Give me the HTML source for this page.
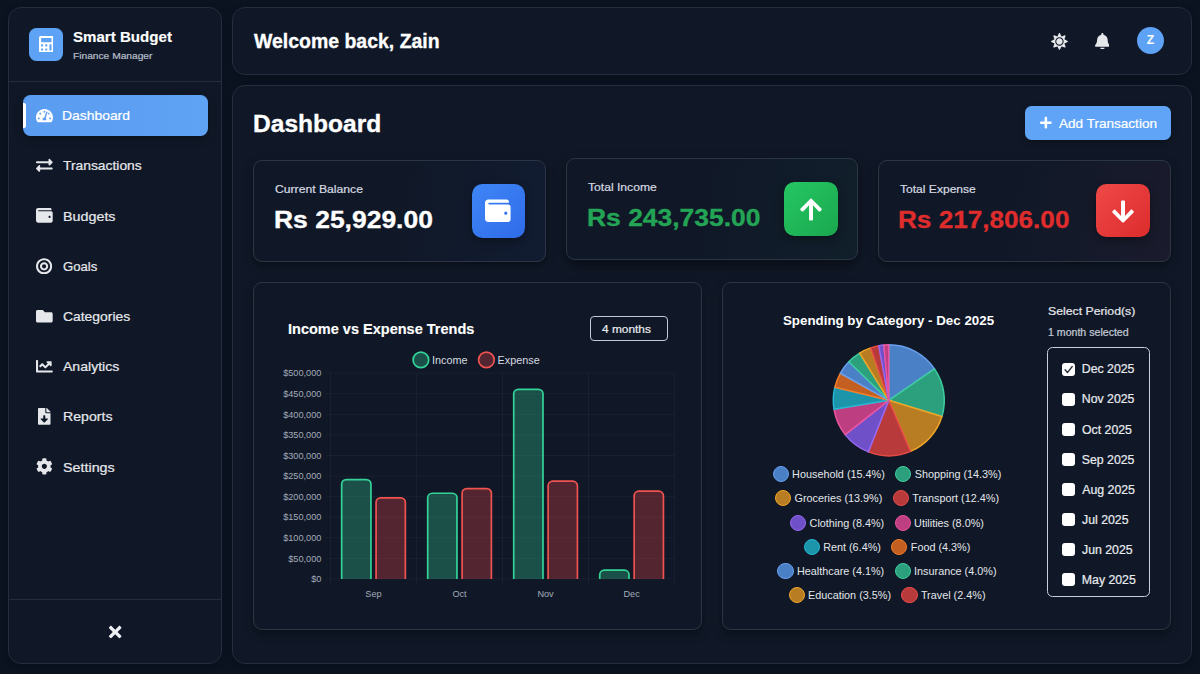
<!DOCTYPE html>
<html lang="en">
<head>
<meta charset="utf-8">
<title>Smart Budget - Dashboard</title>
<style>
*{box-sizing:border-box;margin:0;padding:0}
html,body{width:1200px;height:674px;overflow:hidden}
body{background:#0b1321;font-family:"Liberation Sans",Arial,sans-serif;color:#f3f4f6;position:relative}
.abs{position:absolute}
.panel{position:absolute;background:#101827;border:1px solid #232e3e;border-radius:13px;box-shadow:0 2px 6px rgba(0,0,0,.22)}
.card{position:absolute;background:#101827;border:1px solid #2a3545;border-radius:9px;box-shadow:0 4px 10px rgba(0,0,0,.38)}
.t{position:absolute;white-space:nowrap;line-height:1}
.brand{font-weight:700;font-size:15.2px;color:#fff;left:73px;top:29.500px}
.sub{font-size:10.2px;color:#c3cad5;left:73px;top:51.500px}
.hr{position:absolute;left:9px;width:212px;height:1px;background:#232d3d}
.nav{position:absolute;left:63px;font-size:13.7px;color:#e5e7eb;line-height:14px;white-space:nowrap}
.lab{font-size:11.9px;color:#d1d5db}
.val{font-size:24.5px;font-weight:700;letter-spacing:.2px}
svg text{font-family:"Liberation Sans",Arial,sans-serif}
.tick{font-size:9.17px;fill:#a3abb8}
.leg{font-size:10.83px;fill:#d6dae0}
.lrow{position:absolute;left:737px;width:300px;height:16px;display:flex;justify-content:center;white-space:nowrap}
.li{display:inline-flex;align-items:center;font-size:10.83px;color:#e3e6ea;line-height:16px;margin:0 5.200px}
.li i{display:inline-block;width:16.200px;height:16.200px;border-radius:50%;border:1.500px solid;margin-right:3.300px}
.cb{position:absolute;left:1062.100px;width:13.2px;height:13.2px;border-radius:3px;background:#fff}
.cbl{left:1082px;font-size:12.6px;color:#e7eaee}
</style>
</head>
<body>
<!-- SIDE<g stroke="rgba(255,255,255,0.047)" stroke-width="0.85" fill="none"><line x1="326" x2="674.6" y1="373.2" y2="373.2"/><line x1="326" x2="674.6" y1="393.77" y2="393.77"/><line x1="326" x2="674.6" y1="414.34" y2="414.34"/><line x1="326" x2="674.6" y1="434.91" y2="434.91"/><line x1="326" x2="674.6" y1="455.48" y2="455.48"/><line x1="326" x2="674.6" y1="476.05" y2="476.05"/><line x1="326" x2="674.6" y1="496.62" y2="496.62"/><line x1="326" x2="674.6" y1="517.19" y2="517.19"/><line x1="326" x2="674.6" y1="537.76" y2="537.76"/><line x1="326" x2="674.6" y1="558.33" y2="558.33"/><line x1="326" x2="674.6" y1="578.9" y2="578.9"/><line x1="330.5" x2="330.5" y1="373.2" y2="585.6"/><line x1="416.52" x2="416.52" y1="373.2" y2="585.6"/><line x1="502.55" x2="502.55" y1="373.2" y2="585.6"/><line x1="588.58" x2="588.58" y1="373.2" y2="585.6"/><line x1="674.6" x2="674.6" y1="373.2" y2="585.6"/></g>
<text x="321.400" y="375.7" text-anchor="end" class="tick">$500,000</text>
<text x="321.400" y="397.07" text-anchor="end" class="tick">$450,000</text>
<text x="321.400" y="417.64" text-anchor="end" class="tick">$400,000</text>
<text x="321.400" y="438.21" text-anchor="end" class="tick">$350,000</text>
<text x="321.400" y="458.78" text-anchor="end" class="tick">$300,000</text>
<text x="321.400" y="479.35" text-anchor="end" class="tick">$250,000</text>
<text x="321.400" y="499.92" text-anchor="end" class="tick">$200,000</text>
<text x="321.400" y="520.49" text-anchor="end" class="tick">$150,000</text>
<text x="321.400" y="541.06" text-anchor="end" class="tick">$100,000</text>
<text x="321.400" y="561.63" text-anchor="end" class="tick">$50,000</text>
<text x="321.400" y="582.2" text-anchor="end" class="tick">$0</text>
<path d="M341.67 578.9V484.15a4.6 4.6 0 0 1 4.6 -4.6H366.34a4.6 4.6 0 0 1 4.6 4.6V578.9" fill="rgba(52,211,153,0.30)" stroke="#34d399" stroke-width="1.700"/>
<path d="M376.08 578.9V502.45a4.6 4.6 0 0 1 4.6 -4.6H400.75a4.6 4.6 0 0 1 4.6 4.6V578.9" fill="rgba(239,68,68,0.30)" stroke="#ef5350" stroke-width="1.700"/>
<path d="M427.7 578.9V497.85a4.6 4.6 0 0 1 4.6 -4.6H452.37a4.6 4.6 0 0 1 4.6 4.6V578.9" fill="rgba(52,211,153,0.30)" stroke="#34d399" stroke-width="1.700"/>
<path d="M462.11 578.9V493.15a4.6 4.6 0 0 1 4.6 -4.6H486.78a4.6 4.6 0 0 1 4.6 4.6V578.9" fill="rgba(239,68,68,0.30)" stroke="#ef5350" stroke-width="1.700"/>
<path d="M513.72 578.9V393.95a4.6 4.6 0 0 1 4.6 -4.6H538.39a4.6 4.6 0 0 1 4.6 4.6V578.9" fill="rgba(52,211,153,0.30)" stroke="#34d399" stroke-width="1.700"/>
<path d="M548.13 578.9V485.75a4.6 4.6 0 0 1 4.6 -4.6H572.8a4.6 4.6 0 0 1 4.6 4.6V578.9" fill="rgba(239,68,68,0.30)" stroke="#ef5350" stroke-width="1.700"/>
<path d="M599.75 578.9V574.75a4.6 4.6 0 0 1 4.6 -4.6H624.42a4.6 4.6 0 0 1 4.6 4.6V578.9" fill="rgba(52,211,153,0.30)" stroke="#34d399" stroke-width="1.700"/>
<path d="M634.16 578.9V495.75a4.6 4.6 0 0 1 4.6 -4.6H658.83a4.6 4.6 0 0 1 4.6 4.6V578.9" fill="rgba(239,68,68,0.30)" stroke="#ef5350" stroke-width="1.700"/>
<text x="373.51" y="597.300" text-anchor="middle" class="tick">Sep</text>
<text x="459.54" y="597.300" text-anchor="middle" class="tick">Oct</text>
<text x="545.56" y="597.300" text-anchor="middle" class="tick">Nov</text>
<text x="631.59" y="597.300" text-anchor="middle" class="tick">Dec</text>
<circle cx="420.900" cy="359.900" r="7.800" fill="rgba(52,211,153,0.30)" stroke="#34d399" stroke-width="1.700"/>
<text x="432" y="363.900" class="leg">Income</text>
<circle cx="486.400" cy="359.900" r="7.800" fill="rgba(239,68,68,0.30)" stroke="#ef5350" stroke-width="1.700"/>
<text x="497.600" y="363.900" class="leg">Expense</text> -->
<div class="panel" style="left:8px;top:7px;width:214px;height:657px"></div>
<div class="abs" style="left:29.300px;top:27.500px;width:33.400px;height:33.700px;border-radius:7.500px;background:#5ea2f6"></div>
<div class="t" style="left:73.2px;top:28.5px;font-size:15.0px;font-weight:700;color:#fff;transform:scaleX(1.006);transform-origin:0 0;-webkit-text-stroke:0.15px #fff">Smart Budget</div><div class="t" style="left:73.2px;top:51.26px;font-size:9.5px;font-weight:400;color:#b4bcc8;transform:scaleX(1.074);transform-origin:0 0;-webkit-text-stroke:0.22px #b4bcc8">Finance Manager</div>
<div class="hr" style="top:81px"></div>
<div class="abs" style="left:22.600px;top:95.400px;width:185.400px;height:40.300px;border-radius:7.500px;background:linear-gradient(90deg,#5a9cf0,#5fa3f5);box-shadow:0 3px 8px rgba(0,0,0,.3)"></div>
<div class="abs" style="left:22.600px;top:102.800px;width:3.300px;height:25.700px;border-radius:0 2px 2px 0;background:#fff"></div>
<div class="t" style="left:62.07px;top:108.87px;font-size:13.5px;font-weight:400;color:#fff;transform:scaleX(1.029);transform-origin:0 0;-webkit-text-stroke:0.22px #fff">Dashboard</div><div class="t" style="left:63.1px;top:159.17px;font-size:13.5px;font-weight:400;color:#e5e7eb;transform:scaleX(1.025);transform-origin:0 0;-webkit-text-stroke:0.22px #e5e7eb">Transactions</div><div class="t" style="left:62.74px;top:210.47px;font-size:13.5px;font-weight:400;color:#e5e7eb;transform:scaleX(1.06);transform-origin:0 0;-webkit-text-stroke:0.22px #e5e7eb">Budgets</div><div class="t" style="left:63.1px;top:259.67px;font-size:13.5px;font-weight:400;color:#e5e7eb;transform:scaleX(0.974);transform-origin:0 0;-webkit-text-stroke:0.22px #e5e7eb">Goals</div><div class="t" style="left:63.1px;top:309.97px;font-size:13.5px;font-weight:400;color:#e5e7eb;transform:scaleX(1.029);transform-origin:0 0;-webkit-text-stroke:0.22px #e5e7eb">Categories</div><div class="t" style="left:63.1px;top:359.77px;font-size:13.5px;font-weight:400;color:#e5e7eb;transform:scaleX(1.041);transform-origin:0 0;-webkit-text-stroke:0.22px #e5e7eb">Analytics</div><div class="t" style="left:62.75px;top:410.27px;font-size:13.5px;font-weight:400;color:#e5e7eb;transform:scaleX(1.046);transform-origin:0 0;-webkit-text-stroke:0.22px #e5e7eb">Reports</div><div class="t" style="left:62.74px;top:461.47px;font-size:13.5px;font-weight:400;color:#e5e7eb;transform:scaleX(1.06);transform-origin:0 0;-webkit-text-stroke:0.22px #e5e7eb">Settings</div>
<div class="hr" style="top:599px"></div>

<!-- HEADER -->
<div class="panel" style="left:232px;top:7px;width:960px;height:68px"></div>
<div class="t" style="left:254.1px;top:31.42px;font-size:20.0px;font-weight:700;color:#fff;transform:scaleX(0.973);transform-origin:0 0;-webkit-text-stroke:0.32px #fff">Welcome back, Zain</div>
<div class="abs" style="left:1137px;top:27.400px;width:27px;height:27px;border-radius:50%;background:#5ea2f6;color:#fff;font-size:12.3px;font-weight:700;text-align:center;line-height:27.500px">Z</div>

<!-- MAIN -->
<div class="panel" style="left:232px;top:85px;width:960px;height:579px"></div>
<div class="t" style="left:253.06px;top:112.79px;font-size:23.7px;font-weight:700;color:#fff;transform:scaleX(1.037);transform-origin:0 0;-webkit-text-stroke:0.32px #fff">Dashboard</div>
<div class="abs" style="left:1025.200px;top:106.200px;width:145.600px;height:33.600px;border-radius:6.500px;background:#60a4f8;box-shadow:0 2px 6px rgba(0,0,0,.3)"></div>
<div class="t" style="left:1059.2px;top:116.58px;font-size:13.2px;font-weight:400;color:#fff;transform:scaleX(1.028);transform-origin:0 0;-webkit-text-stroke:0.22px #fff">Add Transaction</div>

<!-- <div class="abs" style="left:471.5px;top:184.3px;width:53.3px;height:53.3px;border-radius:10.500px;background:linear-gradient(135deg,#3f86f7,#2f6be8);box-shadow:0 3px 8px rgba(0,0,0,.35)"></div>
<svg class="abs" style="left:485.4px;top:198.1px" width="25.6" height="25.6" viewBox="0 0 512 512"><path fill="#fff" d="M461.200 128H80c-8.840 0-16-7.160-16-16s7.160-16 16-16h384c8.840 0 16-7.160 16-16 0-26.510-21.490-48-48-48H64C28.650 32 0 60.650 0 96v320c0 35.350 28.650 64 64 64h397.200c28.020 0 50.800-21.530 50.800-48V176c0-26.470-22.780-48-50.800-48zM416 336c-17.670 0-32-14.330-32-32s14.330-32 32-32 32 14.330 32 32-14.330 32-32 32z"/></svg>
<div class="abs" style="left:784.3px;top:182.3px;width:53.3px;height:53.3px;border-radius:10.500px;background:linear-gradient(135deg,#25c763,#1aa74e);box-shadow:0 3px 8px rgba(0,0,0,.35)"></div>
<svg class="abs" style="left:799.88px;top:197px" width="22.05" height="25.2" viewBox="0 0 448 512"><path fill="#fff" d="M34.900 289.500l-22.200-22.200c-9.400-9.400-9.400-24.600 0-33.900L207 39c9.400-9.400 24.600-9.400 33.900 0l194.300 194.300c9.400 9.400 9.400 24.600 0 33.900L413 289.400c-9.500 9.500-25 9.300-34.300-.4L264 168.600V456c0 13.300-10.700 24-24 24h-32c-13.300 0-24-10.700-24-24V168.600L69.200 289.100c-9.300 9.800-24.800 10-34.300.4z"/></svg>
<div class="abs" style="left:1096.4px;top:184.1px;width:53.3px;height:53.3px;border-radius:10.500px;background:linear-gradient(135deg,#f04848,#dc2c2c);box-shadow:0 3px 8px rgba(0,0,0,.35)"></div>
<svg class="abs" style="left:1112.17px;top:198.8px" width="22.05" height="25.2" viewBox="0 0 448 512"><path fill="#fff" d="M413.100 222.500l22.200 22.200c9.400 9.400 9.400 24.600 0 33.900L241 473c-9.400 9.400-24.600 9.400-33.900 0L12.700 278.600c-9.400-9.400-9.400-24.600 0-33.900l22.200-22.200c9.500-9.500 25-9.300 34.300.4L184 343.400V56c0-13.300 10.700-24 24-24h32c13.300 0 24 10.700 24 24v287.400l114.800-120.500c9.300-9.800 24.800-10 34.300-.4z"/></svg> CARDS -->
<div class="card" style="left:253px;top:160px;width:293px;height:102px;background:linear-gradient(100deg,#101827 45%,#121c31)"></div>
<div class="t" style="left:274.75px;top:184.31px;font-size:11.8px;font-weight:400;color:#d5d9e0;transform:scaleX(1.032);transform-origin:0 0;-webkit-text-stroke:0.22px #d5d9e0">Current Balance</div><div class="t" style="left:273.63px;top:209.19px;font-size:23.7px;font-weight:700;color:#fff;transform:scaleX(1.117);transform-origin:0 0;-webkit-text-stroke:0.32px #fff">Rs 25,929.00</div>
<div class="card" style="left:566px;top:158px;width:292px;height:102px;box-shadow:0 6px 14px rgba(0,0,0,.45);background:linear-gradient(100deg,#101827 45%,#111f2b)"></div>
<div class="t" style="left:587.7px;top:181.51px;font-size:11.8px;font-weight:400;color:#d5d9e0;transform:scaleX(1.028);transform-origin:0 0;-webkit-text-stroke:0.22px #d5d9e0">Total Income</div><div class="t" style="left:586.52px;top:206.54px;font-size:23.7px;font-weight:700;color:#24a556;transform:scaleX(1.116);transform-origin:0 0;-webkit-text-stroke:0.32px #24a556">Rs 243,735.00</div>
<div class="card" style="left:878px;top:160px;width:293px;height:102px;background:linear-gradient(100deg,#101827 45%,#1a1b2c)"></div>
<div class="t" style="left:899.8px;top:184.06px;font-size:11.8px;font-weight:400;color:#d5d9e0;transform:scaleX(1.023);transform-origin:0 0;-webkit-text-stroke:0.22px #d5d9e0">Total Expense</div><div class="t" style="left:897.74px;top:209.44px;font-size:23.7px;font-weight:700;color:#df2c2c;transform:scaleX(1.103);transform-origin:0 0;-webkit-text-stroke:0.32px #df2c2c">Rs 217,806.00</div>
<div class="abs" style="left:471.5px;top:184.3px;width:53.3px;height:53.3px;border-radius:10.500px;background:linear-gradient(135deg,#3f86f7,#2f6be8);box-shadow:0 3px 8px rgba(0,0,0,.35)"></div>
<svg class="abs" style="left:485.4px;top:198.1px" width="25.6" height="25.6" viewBox="0 0 512 512"><path fill="#fff" d="M461.200 128H80c-8.840 0-16-7.160-16-16s7.160-16 16-16h384c8.840 0 16-7.160 16-16 0-26.510-21.490-48-48-48H64C28.650 32 0 60.650 0 96v320c0 35.350 28.650 64 64 64h397.200c28.020 0 50.800-21.530 50.800-48V176c0-26.470-22.780-48-50.800-48zM416 336c-17.670 0-32-14.330-32-32s14.330-32 32-32 32 14.330 32 32-14.330 32-32 32z"/></svg>
<div class="abs" style="left:784.3px;top:182.3px;width:53.3px;height:53.3px;border-radius:10.500px;background:linear-gradient(135deg,#25c763,#1aa74e);box-shadow:0 3px 8px rgba(0,0,0,.35)"></div>
<svg class="abs" style="left:799.88px;top:197px" width="22.05" height="25.2" viewBox="0 0 448 512"><path fill="#fff" d="M34.900 289.500l-22.200-22.200c-9.400-9.400-9.400-24.600 0-33.900L207 39c9.400-9.400 24.600-9.400 33.900 0l194.300 194.300c9.400 9.400 9.400 24.600 0 33.900L413 289.400c-9.500 9.500-25 9.300-34.300-.4L264 168.600V456c0 13.300-10.700 24-24 24h-32c-13.300 0-24-10.700-24-24V168.600L69.200 289.100c-9.300 9.800-24.800 10-34.300.4z"/></svg>
<div class="abs" style="left:1096.4px;top:184.1px;width:53.3px;height:53.3px;border-radius:10.500px;background:linear-gradient(135deg,#f04848,#dc2c2c);box-shadow:0 3px 8px rgba(0,0,0,.35)"></div>
<svg class="abs" style="left:1112.17px;top:198.8px" width="22.05" height="25.2" viewBox="0 0 448 512"><path fill="#fff" d="M413.100 222.500l22.200 22.200c9.400 9.400 9.400 24.600 0 33.900L241 473c-9.400 9.400-24.600 9.400-33.900 0L12.700 278.600c-9.400-9.400-9.400-24.600 0-33.900l22.200-22.200c9.500-9.500 25-9.300 34.300.4L184 343.400V56c0-13.300 10.700-24 24-24h32c13.300 0 24 10.700 24 24v287.400l114.800-120.500c9.300-9.800 24.800-10 34.300-.4z"/></svg>

<!-- CHART CARDS -->
<div class="card" style="left:253px;top:282px;width:449px;height:348px"></div>
<div class="t" style="left:287.56px;top:320.76px;font-size:15.4px;font-weight:700;color:#fff;transform:scaleX(0.943);transform-origin:0 0;-webkit-text-stroke:0.15px #fff">Income vs Expense Trends</div>
<div class="abs" style="left:590px;top:316.100px;width:78px;height:25px;border:1px solid #c3cad5;border-radius:4px"></div>
<div class="t" style="left:601.7px;top:324.31px;font-size:11.8px;font-weight:400;color:#e7eaee;transform:scaleX(1.006);transform-origin:0 0;-webkit-text-stroke:0.22px #e7eaee">4 months</div>
<svg class="abs" style="left:0;top:0" width="1200" height="674" viewBox="0 0 1200 674"><g stroke="rgba(255,255,255,0.047)" stroke-width="0.85" fill="none"><line x1="326" x2="674.6" y1="373.2" y2="373.2"/><line x1="326" x2="674.6" y1="393.77" y2="393.77"/><line x1="326" x2="674.6" y1="414.34" y2="414.34"/><line x1="326" x2="674.6" y1="434.91" y2="434.91"/><line x1="326" x2="674.6" y1="455.48" y2="455.48"/><line x1="326" x2="674.6" y1="476.05" y2="476.05"/><line x1="326" x2="674.6" y1="496.62" y2="496.62"/><line x1="326" x2="674.6" y1="517.19" y2="517.19"/><line x1="326" x2="674.6" y1="537.76" y2="537.76"/><line x1="326" x2="674.6" y1="558.33" y2="558.33"/><line x1="326" x2="674.6" y1="578.9" y2="578.9"/><line x1="330.5" x2="330.5" y1="373.2" y2="585.6"/><line x1="416.52" x2="416.52" y1="373.2" y2="585.6"/><line x1="502.55" x2="502.55" y1="373.2" y2="585.6"/><line x1="588.58" x2="588.58" y1="373.2" y2="585.6"/><line x1="674.6" x2="674.6" y1="373.2" y2="585.6"/></g>
<text x="321.400" y="375.7" text-anchor="end" class="tick">$500,000</text>
<text x="321.400" y="397.07" text-anchor="end" class="tick">$450,000</text>
<text x="321.400" y="417.64" text-anchor="end" class="tick">$400,000</text>
<text x="321.400" y="438.21" text-anchor="end" class="tick">$350,000</text>
<text x="321.400" y="458.78" text-anchor="end" class="tick">$300,000</text>
<text x="321.400" y="479.35" text-anchor="end" class="tick">$250,000</text>
<text x="321.400" y="499.92" text-anchor="end" class="tick">$200,000</text>
<text x="321.400" y="520.49" text-anchor="end" class="tick">$150,000</text>
<text x="321.400" y="541.06" text-anchor="end" class="tick">$100,000</text>
<text x="321.400" y="561.63" text-anchor="end" class="tick">$50,000</text>
<text x="321.400" y="582.2" text-anchor="end" class="tick">$0</text>
<path d="M341.67 578.9V484.15a4.6 4.6 0 0 1 4.6 -4.6H366.34a4.6 4.6 0 0 1 4.6 4.6V578.9" fill="rgba(52,211,153,0.30)" stroke="#34d399" stroke-width="1.700"/>
<path d="M376.08 578.9V502.45a4.6 4.6 0 0 1 4.6 -4.6H400.75a4.6 4.6 0 0 1 4.6 4.6V578.9" fill="rgba(239,68,68,0.30)" stroke="#ef5350" stroke-width="1.700"/>
<path d="M427.7 578.9V497.85a4.6 4.6 0 0 1 4.6 -4.6H452.37a4.6 4.6 0 0 1 4.6 4.6V578.9" fill="rgba(52,211,153,0.30)" stroke="#34d399" stroke-width="1.700"/>
<path d="M462.11 578.9V493.15a4.6 4.6 0 0 1 4.6 -4.6H486.78a4.6 4.6 0 0 1 4.6 4.6V578.9" fill="rgba(239,68,68,0.30)" stroke="#ef5350" stroke-width="1.700"/>
<path d="M513.72 578.9V393.95a4.6 4.6 0 0 1 4.6 -4.6H538.39a4.6 4.6 0 0 1 4.6 4.6V578.9" fill="rgba(52,211,153,0.30)" stroke="#34d399" stroke-width="1.700"/>
<path d="M548.13 578.9V485.75a4.6 4.6 0 0 1 4.6 -4.6H572.8a4.6 4.6 0 0 1 4.6 4.6V578.9" fill="rgba(239,68,68,0.30)" stroke="#ef5350" stroke-width="1.700"/>
<path d="M599.75 578.9V574.75a4.6 4.6 0 0 1 4.6 -4.6H624.42a4.6 4.6 0 0 1 4.6 4.6V578.9" fill="rgba(52,211,153,0.30)" stroke="#34d399" stroke-width="1.700"/>
<path d="M634.16 578.9V495.75a4.6 4.6 0 0 1 4.6 -4.6H658.83a4.6 4.6 0 0 1 4.6 4.6V578.9" fill="rgba(239,68,68,0.30)" stroke="#ef5350" stroke-width="1.700"/>
<text x="373.51" y="597.300" text-anchor="middle" class="tick">Sep</text>
<text x="459.54" y="597.300" text-anchor="middle" class="tick">Oct</text>
<text x="545.56" y="597.300" text-anchor="middle" class="tick">Nov</text>
<text x="631.59" y="597.300" text-anchor="middle" class="tick">Dec</text>
<circle cx="420.900" cy="359.900" r="7.800" fill="rgba(52,211,153,0.30)" stroke="#34d399" stroke-width="1.700"/>
<text x="432" y="363.900" class="leg">Income</text>
<circle cx="486.400" cy="359.900" r="7.800" fill="rgba(239,68,68,0.30)" stroke="#ef5350" stroke-width="1.700"/>
<text x="497.600" y="363.900" class="leg">Expense</text></svg>

<div class="card" style="left:722px;top:282px;width:449px;height:348px"></div>
<svg class="abs" style="left:0;top:0" width="1200" height="674" viewBox="0 0 1200 674">
<text x="888.500" y="324.600" text-anchor="middle" style="font-size:13.33px;font-weight:700;fill:#fff">Spending by Category - Dec 2025</text>
<path d="M888.8 400.3L888.8 344.8A55.5 55.5 0 0 1 934.51 368.82Z" fill="rgb(74,128,198)" stroke="rgb(105,160,238)" stroke-width="1.500" stroke-linejoin="round"/>
<path d="M888.8 400.3L934.51 368.82A55.5 55.5 0 0 1 941.9 416.45Z" fill="rgb(44,160,125)" stroke="rgb(62,205,160)" stroke-width="1.500" stroke-linejoin="round"/>
<path d="M888.8 400.3L941.9 416.45A55.5 55.5 0 0 1 910.52 451.37Z" fill="rgb(184,124,34)" stroke="rgb(240,165,40)" stroke-width="1.500" stroke-linejoin="round"/>
<path d="M888.8 400.3L910.52 451.37A55.5 55.5 0 0 1 868.37 451.9Z" fill="rgb(185,58,58)" stroke="rgb(232,76,72)" stroke-width="1.500" stroke-linejoin="round"/>
<path d="M888.8 400.3L868.37 451.9A55.5 55.5 0 0 1 845.16 434.59Z" fill="rgb(112,80,200)" stroke="rgb(150,105,240)" stroke-width="1.500" stroke-linejoin="round"/>
<path d="M888.8 400.3L845.16 434.59A55.5 55.5 0 0 1 834.04 409.33Z" fill="rgb(190,62,130)" stroke="rgb(235,85,160)" stroke-width="1.500" stroke-linejoin="round"/>
<path d="M888.8 400.3L834.04 409.33A55.5 55.5 0 0 1 834.87 387.17Z" fill="rgb(28,148,170)" stroke="rgb(35,185,212)" stroke-width="1.500" stroke-linejoin="round"/>
<path d="M888.8 400.3L834.87 387.17A55.5 55.5 0 0 1 840.33 373.26Z" fill="rgb(195,95,32)" stroke="rgb(245,125,40)" stroke-width="1.500" stroke-linejoin="round"/>
<path d="M888.8 400.3L840.33 373.26A55.5 55.5 0 0 1 848.82 361.8Z" fill="rgb(74,128,198)" stroke="rgb(105,160,238)" stroke-width="1.500" stroke-linejoin="round"/>
<path d="M888.8 400.3L848.82 361.8A55.5 55.5 0 0 1 859.65 353.07Z" fill="rgb(44,160,125)" stroke="rgb(62,205,160)" stroke-width="1.500" stroke-linejoin="round"/>
<path d="M888.8 400.3L859.65 353.07A55.5 55.5 0 0 1 870.66 347.85Z" fill="rgb(184,124,34)" stroke="rgb(240,165,40)" stroke-width="1.500" stroke-linejoin="round"/>
<path d="M888.8 400.3L870.66 347.85A55.5 55.5 0 0 1 878.74 345.72Z" fill="rgb(185,58,58)" stroke="rgb(232,76,72)" stroke-width="1.500" stroke-linejoin="round"/>
<path d="M888.8 400.3L878.74 345.72A55.5 55.5 0 0 1 883.92 345.01Z" fill="rgb(112,80,200)" stroke="rgb(150,105,240)" stroke-width="1.500" stroke-linejoin="round"/>
<path d="M888.8 400.3L883.92 345.01A55.5 55.5 0 0 1 888.8 344.8Z" fill="rgb(190,62,130)" stroke="rgb(235,85,160)" stroke-width="1.500" stroke-linejoin="round"/></svg>
<div class="lrow" style="top:466px"><span class="li"><i style="background:rgb(74,128,198);border-color:rgb(105,160,238)"></i>Household (15.4%)</span><span class="li"><i style="background:rgb(44,160,125);border-color:rgb(62,205,160)"></i>Shopping (14.3%)</span></div>
<div class="lrow" style="top:490.4px"><span class="li"><i style="background:rgb(184,124,34);border-color:rgb(240,165,40)"></i>Groceries (13.9%)</span><span class="li"><i style="background:rgb(185,58,58);border-color:rgb(232,76,72)"></i>Transport (12.4%)</span></div>
<div class="lrow" style="top:514.8px"><span class="li"><i style="background:rgb(112,80,200);border-color:rgb(150,105,240)"></i>Clothing (8.4%)</span><span class="li"><i style="background:rgb(190,62,130);border-color:rgb(235,85,160)"></i>Utilities (8.0%)</span></div>
<div class="lrow" style="top:539.2px"><span class="li"><i style="background:rgb(28,148,170);border-color:rgb(35,185,212)"></i>Rent (6.4%)</span><span class="li"><i style="background:rgb(195,95,32);border-color:rgb(245,125,40)"></i>Food (4.3%)</span></div>
<div class="lrow" style="top:563.2px"><span class="li"><i style="background:rgb(74,128,198);border-color:rgb(105,160,238)"></i>Healthcare (4.1%)</span><span class="li"><i style="background:rgb(44,160,125);border-color:rgb(62,205,160)"></i>Insurance (4.0%)</span></div>
<div class="lrow" style="top:587.3px"><span class="li"><i style="background:rgb(184,124,34);border-color:rgb(240,165,40)"></i>Education (3.5%)</span><span class="li"><i style="background:rgb(185,58,58);border-color:rgb(232,76,72)"></i>Travel (2.4%)</span></div>
<div class="t" style="left:1048.3px;top:305.71px;font-size:11.8px;font-weight:400;color:#e5e7eb;transform:scaleX(1.04);transform-origin:0 0;-webkit-text-stroke:0.22px #e5e7eb">Select Period(s)</div><div class="t" style="left:1048.28px;top:328.24px;font-size:10.0px;font-weight:400;color:#c3cad5;transform:scaleX(1.059);transform-origin:0 0;-webkit-text-stroke:0.22px #c3cad5">1 month selected</div>
<div class="abs" style="left:1047.300px;top:346.700px;width:103px;height:250.800px;border:1px solid #c9d0da;border-radius:5.500px"></div>
<div class="cb" style="top:362.5px"><svg width="13.2" height="13.2" viewBox="0 0 12 12" style="position:absolute;left:0;top:0"><path d="M2.800 6.200 5 8.700 9.300 3.200" fill="none" stroke="#2a3140" stroke-width="1.250" stroke-linecap="round" stroke-linejoin="round"/></svg></div><div class="t" style="left:1081.8px;top:363.19px;font-size:12.3px;font-weight:400;color:#e7eaee;-webkit-text-stroke:0.22px #e7eaee">Dec 2025</div>
<div class="cb" style="top:392.55px"></div><div class="t" style="left:1081.8px;top:393.24px;font-size:12.3px;font-weight:400;color:#e7eaee;-webkit-text-stroke:0.22px #e7eaee">Nov 2025</div>
<div class="cb" style="top:422.6px"></div><div class="t" style="left:1082px;top:424.29px;font-size:12.3px;font-weight:400;color:#e7eaee;-webkit-text-stroke:0.22px #e7eaee">Oct 2025</div>
<div class="cb" style="top:452.65px"></div><div class="t" style="left:1081.8px;top:454.34px;font-size:12.3px;font-weight:400;color:#e7eaee;-webkit-text-stroke:0.22px #e7eaee">Sep 2025</div>
<div class="cb" style="top:482.7px"></div><div class="t" style="left:1082.3px;top:484.39px;font-size:12.3px;font-weight:400;color:#e7eaee;-webkit-text-stroke:0.22px #e7eaee">Aug 2025</div>
<div class="cb" style="top:512.75px"></div><div class="t" style="left:1082px;top:514.44px;font-size:12.3px;font-weight:400;color:#e7eaee;-webkit-text-stroke:0.22px #e7eaee">Jul 2025</div>
<div class="cb" style="top:542.8px"></div><div class="t" style="left:1082px;top:544.49px;font-size:12.3px;font-weight:400;color:#e7eaee;-webkit-text-stroke:0.22px #e7eaee">Jun 2025</div>
<div class="cb" style="top:572.85px"></div><div class="t" style="left:1081.8px;top:573.54px;font-size:12.3px;font-weight:400;color:#e7eaee;-webkit-text-stroke:0.22px #e7eaee">May 2025</div>
<svg class="abs" style="left:38.69px;top:35.75px" width="14.61" height="16.7" viewBox="0 0 448 512"><path fill="#fff" d="M400 0H48C22.400 0 0 22.400 0 48v416c0 25.600 22.400 48 48 48h352c25.600 0 48-22.400 48-48V48c0-25.600-22.400-48-48-48zM128 435.200c0 6.400-6.400 12.800-12.800 12.800H76.800c-6.400 0-12.800-6.400-12.800-12.800v-38.400c0-6.400 6.400-12.800 12.800-12.800h38.400c6.400 0 12.800 6.400 12.800 12.800v38.400zm0-128c0 6.400-6.400 12.800-12.800 12.800H76.800c-6.400 0-12.800-6.400-12.800-12.800v-38.400c0-6.400 6.400-12.800 12.800-12.800h38.400c6.400 0 12.800 6.400 12.800 12.800v38.400zm128 128c0 6.400-6.400 12.800-12.800 12.800h-38.400c-6.400 0-12.800-6.400-12.800-12.800v-38.400c0-6.400 6.400-12.800 12.800-12.800h38.400c6.400 0 12.800 6.400 12.800 12.800v38.400zm0-128c0 6.400-6.400 12.800-12.800 12.800h-38.400c-6.400 0-12.800-6.400-12.800-12.800v-38.400c0-6.400 6.400-12.800 12.800-12.800h38.400c6.400 0 12.800 6.400 12.800 12.800v38.400zm128 128c0 6.400-6.400 12.800-12.800 12.800h-38.400c-6.400 0-12.800-6.400-12.800-12.800V268.800c0-6.400 6.400-12.800 12.800-12.800h38.400c6.400 0 12.800 6.400 12.800 12.800v166.400zm0-256c0 6.400-6.400 12.800-12.800 12.800H76.800c-6.400 0-12.800-6.400-12.800-12.800V76.800C64 70.400 70.400 64 76.800 64h294.400c6.400 0 12.800 6.400 12.800 12.800v102.400z"/></svg>
<svg class="abs" style="left:35.71px;top:108.35px" width="16.99" height="15.1" viewBox="0 0 576 512"><path fill="#fff" d="M288 32C128.940 32 0 160.940 0 320c0 52.800 14.250 102.260 39.060 144.800 5.610 9.620 16.300 15.200 27.440 15.200h443c11.140 0 21.830-5.580 27.440-15.200C561.750 422.260 576 372.800 576 320c0-159.060-128.940-288-288-288zm0 64c14.710 0 26.580 10.130 30.320 23.650-1.110 2.260-2.640 4.230-3.450 6.670l-9.220 27.670c-5.130 3.490-10.970 6.010-17.640 6.010-17.670 0-32-14.330-32-32S270.330 96 288 96zM96 384c-17.670 0-32-14.330-32-32s14.330-32 32-32 32 14.330 32 32-14.330 32-32 32zm48-160c-17.670 0-32-14.330-32-32s14.330-32 32-32 32 14.330 32 32-14.330 32-32 32zm246.770-72.410l-61.330 184C343.130 347.330 352 364.540 352 384c0 11.720-3.380 22.550-8.880 32H232.880c-5.500-9.450-8.880-20.280-8.880-32 0-33.940 26.500-61.430 59.900-63.590l61.340-184.010c4.170-12.560 17.730-19.450 30.360-15.170 12.570 4.190 19.350 17.790 15.170 30.360zm14.660 57.200l15.520-46.550c3.470-1.290 7.130-2.230 11.050-2.230 17.670 0 32 14.330 32 32s-14.330 32-32 32c-11.380-.01-20.890-6.280-26.570-15.220zM480 384c-17.670 0-32-14.330-32-32s14.330-32 32-32 32 14.330 32 32-14.330 32-32 32z"/></svg>
<svg class="abs" style="left:36.15px;top:157.25px" width="16.7" height="16.7" viewBox="0 0 512 512"><path fill="#e5e7eb" d="M0 168v-16c0-13.255 10.745-24 24-24h360V80c0-21.367 25.899-32.042 40.971-16.971l80 80c9.372 9.373 9.372 24.569 0 33.941l-80 80C409.956 271.982 384 261.456 384 240v-48H24c-13.255 0-24-10.745-24-24zm488 152H128v-48c0-21.314-25.862-32.080-40.971-16.971l-80 80c-9.372 9.373-9.372 24.569 0 33.941l80 80C102.057 463.968 128 453.456 128 432v-48h360c13.255 0 24-10.745 24-24v-16c0-13.255-10.745-24-24-24z"/></svg>
<svg class="abs" style="left:36.15px;top:207.45px" width="16.7" height="16.7" viewBox="0 0 512 512"><path fill="#e5e7eb" d="M461.200 128H80c-8.840 0-16-7.160-16-16s7.160-16 16-16h384c8.840 0 16-7.160 16-16 0-26.510-21.490-48-48-48H64C28.650 32 0 60.650 0 96v320c0 35.350 28.650 64 64 64h397.200c28.020 0 50.800-21.530 50.800-48V176c0-26.470-22.780-48-50.800-48zM416 336c-17.670 0-32-14.330-32-32s14.330-32 32-32 32 14.330 32 32-14.330 32-32 32z"/></svg>
<svg class="abs" style="left:36.21px;top:257.65px" width="16.18" height="16.7" viewBox="0 0 496 512"><path fill="#e5e7eb" d="M248 8C111.030 8 0 119.030 0 256s111.030 248 248 248 248-111.030 248-248S384.970 8 248 8zm0 432c-101.690 0-184-82.290-184-184 0-101.690 82.290-184 184-184 101.690 0 184 82.290 184 184 0 101.690-82.290 184-184 184zm0-312c-70.690 0-128 57.310-128 128s57.310 128 128 128 128-57.310 128-128-57.310-128-128-128zm0 192c-35.290 0-64-28.710-64-64s28.710-64 64-64 64 28.710 64 64-28.710 64-64 64z"/></svg>
<svg class="abs" style="left:36.15px;top:307.75px" width="16.7" height="16.7" viewBox="0 0 512 512"><path fill="#e5e7eb" d="M464 128H272l-64-64H48C21.490 64 0 85.490 0 112v288c0 26.510 21.490 48 48 48h416c26.510 0 48-21.490 48-48V176c0-26.510-21.490-48-48-48z"/></svg>
<svg class="abs" style="left:36.15px;top:357.95px" width="16.7" height="16.7" viewBox="0 0 512 512"><path fill="#e5e7eb" d="M496 384H64V80c0-8.840-7.160-16-16-16H16C7.160 64 0 71.160 0 80v336c0 17.670 14.330 32 32 32h464c8.840 0 16-7.160 16-16v-32c0-8.840-7.160-16-16-16zM464 96H345.940c-21.380 0-32.090 25.850-16.970 40.970l32.400 32.400L288 242.750l-73.370-73.370c-12.500-12.500-32.760-12.500-45.250 0l-68.690 68.690c-6.250 6.250-6.250 16.380 0 22.630l22.620 22.620c6.250 6.250 16.380 6.250 22.630 0L192 237.250l73.370 73.370c12.500 12.500 32.760 12.500 45.250 0l96-96 32.400 32.400c15.120 15.120 40.970 4.410 40.970-16.970V112c.01-8.840-7.150-16-15.990-16z"/></svg>
<svg class="abs" style="left:38.04px;top:407.95px" width="12.52" height="16.7" viewBox="0 0 384 512"><path fill="#e5e7eb" d="M224 136V0H24C10.700 0 0 10.700 0 24v464c0 13.300 10.700 24 24 24h336c13.300 0 24-10.700 24-24V160H248c-13.200 0-24-10.800-24-24zm76.450 211.360l-96.420 95.700c-6.650 6.610-17.390 6.610-24.040 0l-96.420-95.700C73.420 337.290 80.540 320 94.820 320H160v-80c0-8.840 7.160-16 16-16h32c8.840 0 16 7.160 16 16v80h65.180c14.280 0 21.400 17.290 11.270 27.360zM377 105L279.100 7c-4.500-4.500-10.600-7-17-7H256v128h128v-6.100c0-6.300-2.500-12.400-7-16.900z"/></svg>
<svg class="abs" style="left:35.85px;top:458.25px" width="16.7" height="16.7" viewBox="0 0 512 512"><path fill="#e5e7eb" d="M487.400 315.700l-42.600-24.600c4.300-23.200 4.300-47 0-70.200l42.600-24.600c4.900-2.800 7.100-8.600 5.500-14-11.100-35.600-30-67.800-54.700-94.600-3.800-4.100-10-5.100-14.800-2.300L380.800 110c-17.900-15.400-38.500-27.300-60.800-35.100V25.800c0-5.600-3.900-10.500-9.400-11.700-36.700-8.200-74.300-7.800-109.200 0-5.500 1.200-9.400 6.100-9.400 11.700V75c-22.200 7.900-42.800 19.800-60.800 35.100L88.700 85.500c-4.900-2.800-11-1.900-14.800 2.300-24.700 26.700-43.600 58.900-54.700 94.600-1.700 5.400.6 11.200 5.500 14L67.300 221c-4.300 23.200-4.300 47 0 70.200l-42.600 24.600c-4.900 2.800-7.100 8.600-5.500 14 11.100 35.600 30 67.800 54.700 94.600 3.800 4.100 10 5.100 14.800 2.300l42.600-24.600c17.900 15.400 38.500 27.300 60.800 35.100v49.200c0 5.600 3.900 10.500 9.400 11.700 36.700 8.200 74.300 7.800 109.200 0 5.500-1.200 9.400-6.100 9.400-11.700v-49.200c22.200-7.900 42.800-19.800 60.800-35.100l42.600 24.600c4.900 2.800 11 1.900 14.800-2.300 24.700-26.700 43.600-58.900 54.700-94.600 1.500-5.500-.7-11.300-5.600-14.100zM256 336c-44.100 0-80-35.900-80-80s35.900-80 80-80 80 35.900 80 80-35.900 80-80 80z"/></svg>
<svg class="abs" style="left:109.31px;top:622.7px" width="12.38" height="18" viewBox="0 0 352 512"><path fill="#eef0f3" d="M242.720 256l100.070-100.070c12.280-12.280 12.280-32.190 0-44.480l-22.240-22.240c-12.280-12.280-32.190-12.280-44.480 0L176 189.280 75.930 89.210c-12.280-12.280-32.190-12.280-44.480 0L9.210 111.450c-12.280 12.280-12.280 32.190 0 44.480L109.280 256 9.210 356.070c-12.280 12.280-12.280 32.190 0 44.480l22.240 22.240c12.280 12.280 32.200 12.280 44.480 0L176 322.720l100.070 100.070c12.280 12.280 32.200 12.280 44.480 0l22.240-22.240c12.280-12.280 12.280-32.190 0-44.480L242.720 256z"/></svg>
<svg class="abs" style="left:1050.65px;top:32.65px" width="16.9" height="16.9" viewBox="0 0 512 512"><path fill="#e5e7eb" d="M256 160c-52.900 0-96 43.100-96 96s43.100 96 96 96 96-43.100 96-96-43.100-96-96-96zm246.400 80.500l-94.700-47.300 33.500-100.400c4.500-13.600-8.400-26.500-21.900-21.900l-100.400 33.500-47.400-94.800c-6.400-12.800-24.600-12.800-31 0l-47.300 94.700L92.700 70.800c-13.600-4.500-26.500 8.400-21.900 21.900l33.500 100.400-94.700 47.400c-12.800 6.400-12.800 24.600 0 31l94.700 47.300-33.500 100.500c-4.500 13.600 8.400 26.500 21.900 21.900l100.400-33.500 47.300 94.700c6.400 12.800 24.600 12.800 31 0l47.300-94.700 100.400 33.500c13.600 4.500 26.500-8.400 21.900-21.900l-33.500-100.400 94.700-47.300c13-6.500 13-24.700.2-31.100zm-155.900 106c-49.900 49.900-131.100 49.900-181 0-49.900-49.900-49.900-131.100 0-181 49.900-49.900 131.100-49.900 181 0 49.900 49.900 49.900 131.100 0 181z"/></svg>
<svg class="abs" style="left:1094.71px;top:32.55px" width="14.79" height="16.9" viewBox="0 0 448 512"><path fill="#e5e7eb" d="M224 512c35.320 0 63.970-28.650 63.970-64H160.030c0 35.350 28.650 64 63.970 64zm215.390-149.710c-19.320-20.760-55.470-51.990-55.470-154.290 0-77.700-54.480-139.900-127.940-155.160V32c0-17.670-14.320-32-31.980-32s-31.980 14.330-31.980 32v20.840C118.560 68.100 64.080 130.300 64.080 208c0 102.300-36.150 133.530-55.470 154.290-6 6.450-8.660 14.160-8.610 21.710.11 16.400 12.980 32 32.100 32h383.800c19.120 0 32-15.600 32.100-32 .05-7.550-2.610-15.270-8.610-21.710z"/></svg>
<svg class="abs" style="left:1039.84px;top:116.4px" width="11.72" height="13.4" viewBox="0 0 448 512"><path fill="#fff" d="M416 208H272V64c0-17.670-14.330-32-32-32h-32c-17.670 0-32 14.330-32 32v144H32c-17.670 0-32 14.330-32 32v32c0 17.670 14.330 32 32 32h144v144c0 17.670 14.330 32 32 32h32c17.670 0 32-14.330 32-32V304h144c17.670 0 32-14.330 32-32v-32c0-17.670-14.330-32-32-32z"/></svg>
</body>
</html>
